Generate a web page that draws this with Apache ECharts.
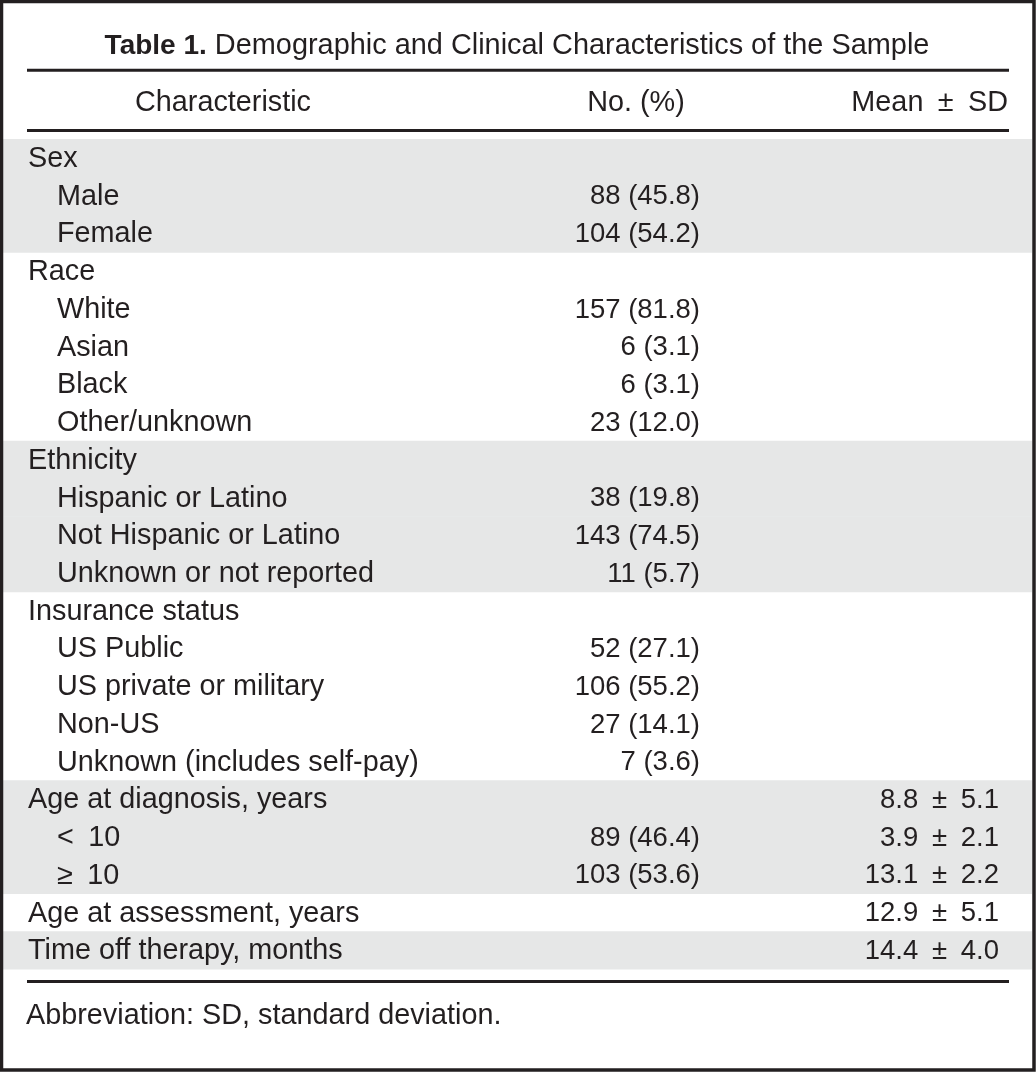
<!DOCTYPE html>
<html>
<head>
<meta charset="utf-8">
<script src="https://cdn.jsdelivr.net/npm/echarts@6/dist/echarts.min.js"></script>
<style>
  html, body { margin: 0; padding: 0; background: #ffffff; }
  #chart { width: 1036px; height: 1072px; }
</style>
</head>
<body>
<div id="chart"></div>
<script>
// ---- Table content ----
const titleBold = 'Table 1.';
const titleRest = 'Demographic and Clinical Characteristics of the Sample';
const columnHeaders = ['Characteristic', 'No. (%)', 'Mean\u2002\u00b1\u2002SD'];
const footnote = 'Abbreviation: SD, standard deviation.';

const rowLabels = [
  'Sex', 'Male', 'Female',
  'Race', 'White', 'Asian', 'Black', 'Other/unknown',
  'Ethnicity', 'Hispanic or Latino', 'Not Hispanic or Latino', 'Unknown or not reported',
  'Insurance status', 'US Public', 'US private or military', 'Non-US', 'Unknown (includes self-pay)',
  'Age at diagnosis, years', '<\u200210', '\u2265\u200210',
  'Age at assessment, years',
  'Time off therapy, months'
];
const rowLevel = [0,1,1, 0,1,1,1,1, 0,1,1,1, 0,1,1,1,1, 0,1,1, 0, 0];
const rowGroup = [0,0,0, 1,1,1,1,1, 2,2,2,2, 3,3,3,3,3, 4,4,4, 5, 6];
const counts   = [null,88,104, null,157,6,6,23, null,38,143,11, null,52,106,27,7, null,89,103, null, null];
const percents = [null,45.8,54.2, null,81.8,3.1,3.1,12.0, null,19.8,74.5,5.7, null,27.1,55.2,14.1,3.6, null,46.4,53.6, null, null];
const means    = [null,null,null, null,null,null,null,null, null,null,null,null, null,null,null,null,null, 8.8,3.9,13.1, 12.9, 14.4];
const sds      = [null,null,null, null,null,null,null,null, null,null,null,null, null,null,null,null,null, 5.1,2.1,2.2, 5.1, 4.0];

// ---- Styling ----
const FONT = "'Liberation Sans', Arial, Helvetica, sans-serif";
const FS_TEXT = 28.8;
const FS_NUM = 27.5;
const INK = '#231f20';
const SHADE = '#e6e7e7';
const DY = 1.2;

const chart = echarts.init(document.getElementById('chart'), null, { renderer: 'canvas' });

function renderRow(params, api) {
  const i = api.value(0);
  const c = api.coord([0, i]);
  const y = c[1];
  const band = api.size([0, 1])[1];
  const children = [];
  if (rowGroup[i] % 2 === 0) {
    const x0 = api.coord([3, i])[0];
    const x1 = api.coord([1032, i])[0];
    children.push({
      type: 'rect',
      shape: { x: x0, y: y - band / 2, width: x1 - x0, height: band + 0.5 },
      style: { fill: SHADE }
    });
  }
  const labelX = api.coord([rowLevel[i] === 0 ? 28 : 57, i])[0];
  children.push({
    type: 'text',
    style: { text: rowLabels[i], x: labelX, y: y + DY, align: 'left', verticalAlign: 'middle',
             font: FS_TEXT + 'px ' + FONT, fill: INK }
  });
  if (counts[i] != null) {
    children.push({
      type: 'text',
      style: { text: counts[i] + ' (' + percents[i].toFixed(1) + ')', x: api.coord([700, i])[0], y: y + DY,
               align: 'right', verticalAlign: 'middle', font: FS_NUM + 'px ' + FONT, fill: INK }
    });
  }
  if (means[i] != null) {
    children.push({
      type: 'text',
      style: { text: means[i].toFixed(1) + '\u2002\u00b1\u2002' + sds[i].toFixed(1), x: api.coord([999, i])[0], y: y + DY,
               align: 'right', verticalAlign: 'middle', font: FS_NUM + 'px ' + FONT, fill: INK }
    });
  }
  return { type: 'group', children: children };
}

const option = {
  backgroundColor: '#ffffff',
  animation: false,
  grid: { left: 0, right: 0, top: 139, bottom: 103, containLabel: false },
  xAxis: { type: 'value', min: 0, max: 1036, show: false },
  yAxis: { type: 'category', data: rowLabels.map((_, i) => i), inverse: true, show: false },
  series: [{
    type: 'custom',
    renderItem: renderRow,
    data: rowLabels.map((_, i) => [i]),
    encode: { y: 0 },
    silent: true
  }],
  graphic: [
    { type: 'rect', shape: { x: 1.5, y: 1.5, width: 1032.5, height: 1068.5 },
      style: { fill: 'none', stroke: INK, lineWidth: 3.5 }, z: 100 },
    { type: 'text', style: {
        text: '{b|' + titleBold + '} ' + titleRest, x: 517, y: 46.5, align: 'center', verticalAlign: 'middle',
        font: '28.9px ' + FONT, fill: INK,
        rich: { b: { font: 'bold 28px ' + FONT, fill: INK } } } },
    { type: 'line', shape: { x1: 27, y1: 70.2, x2: 1009, y2: 70.2 }, style: { stroke: INK, lineWidth: 3 } },
    { type: 'text', style: { text: columnHeaders[0], x: 223, y: 103, align: 'center', verticalAlign: 'middle',
        font: FS_TEXT + 'px ' + FONT, fill: INK } },
    { type: 'text', style: { text: columnHeaders[1], x: 636, y: 103, align: 'center', verticalAlign: 'middle',
        font: FS_TEXT + 'px ' + FONT, fill: INK } },
    { type: 'text', style: { text: columnHeaders[2], x: 1008, y: 103, align: 'right', verticalAlign: 'middle',
        font: FS_TEXT + 'px ' + FONT, fill: INK } },
    { type: 'line', shape: { x1: 27, y1: 130.5, x2: 1009, y2: 130.5 }, style: { stroke: INK, lineWidth: 3 } },
    { type: 'line', shape: { x1: 27, y1: 981.4, x2: 1009, y2: 981.4 }, style: { stroke: INK, lineWidth: 3 } },
    { type: 'text', style: { text: footnote, x: 26, y: 1016, align: 'left', verticalAlign: 'middle',
        font: FS_TEXT + 'px ' + FONT, fill: INK } }
  ]
};
chart.setOption(option);
</script>
</body>
</html>
